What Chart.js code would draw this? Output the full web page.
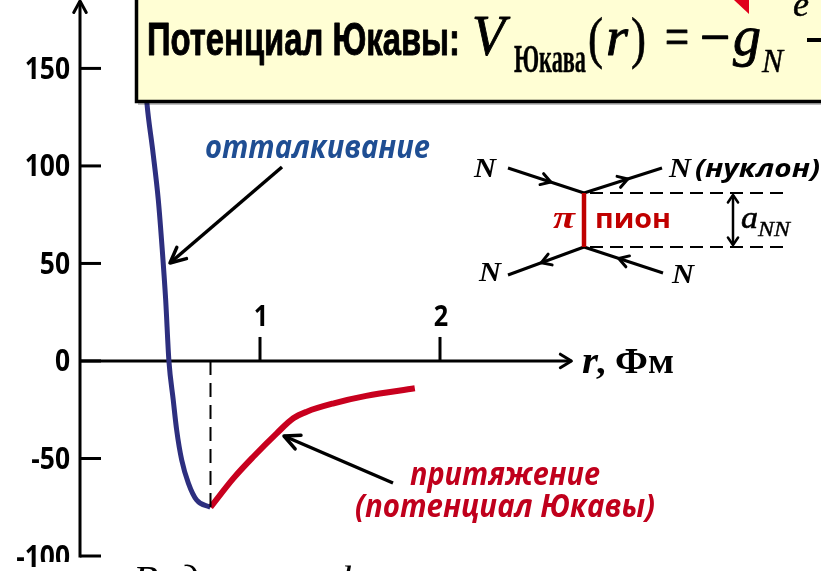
<!DOCTYPE html>
<html>
<head>
<meta charset="utf-8">
<script src="https://cdn.jsdelivr.net/npm/chart.js@4.4.1/dist/chart.umd.min.js"></script>
<style>
  html, body { margin: 0; padding: 0; background: #ffffff; }
  canvas { display: block; }
</style>
</head>
<body>
<canvas id="c" width="821" height="571"></canvas>
<script>
// ---- data (r in Fm, V in arbitrary units) ----
const xTicks = [1, 2];
const yTicks = [150, 100, 50, 0, -50, -100];
const blueR = [0.35, 0.372, 0.404, 0.435, 0.457, 0.476, 0.494, 0.518, 0.537, 0.565, 0.602, 0.648, 0.725];
const blueV = [160, 132, 108, 82.6, 57, 31.3, 0, -20, -35.4, -50.8, -62.6, -71.3, -75];
const redR = [0.725, 0.852, 0.963, 1.093, 1.185, 1.26, 1.41, 1.59, 1.86];
const redV = [-75, -60.2, -49.1, -37.1, -29.4, -26, -21.7, -17.9, -14.0];
const xAxisEnd = 2.73;

const BLUE = '#2d2f7f';
const RED = '#c8001e';
const TXT_BLUE = '#1f4e93';
const TXT_RED = '#c0001c';

function pts(xs, ys) { return xs.map((x, i) => ({ x: x, y: ys[i] })); }

function txt(ctx, s, x, y, font, color, opt) {
  opt = opt || {};
  ctx.save();
  ctx.font = font;
  ctx.fillStyle = color;
  ctx.textBaseline = 'alphabetic';
  ctx.textAlign = 'left';
  const w = ctx.measureText(s).width;
  const tw = opt.width || w * (opt.sx || 1);
  const sx = tw / w;
  let x0 = x;
  if (opt.align === 'right') x0 = x - tw;
  else if (opt.align === 'center') x0 = x - tw / 2;
  ctx.translate(x0, y);
  ctx.scale(sx, 1);
  ctx.fillText(s, 0, 0);
  if (opt.stroke) { ctx.strokeStyle = color; ctx.lineWidth = opt.stroke; ctx.lineJoin = 'round'; ctx.strokeText(s, 0, 0); }
  ctx.restore();
}

function line(ctx, x1, y1, x2, y2, w, color, dash) {
  ctx.save();
  ctx.beginPath();
  ctx.strokeStyle = color || '#000';
  ctx.lineWidth = w;
  ctx.setLineDash(dash || []);
  ctx.moveTo(x1, y1); ctx.lineTo(x2, y2);
  ctx.stroke();
  ctx.restore();
}

function head(ctx, tx, ty, ang, len, spread, w) {
  ctx.save();
  ctx.beginPath();
  ctx.strokeStyle = '#000';
  ctx.lineWidth = w;
  ctx.lineCap = 'round';
  ctx.lineJoin = 'round';
  ctx.moveTo(tx - len * Math.cos(ang - spread), ty - len * Math.sin(ang - spread));
  ctx.lineTo(tx, ty);
  ctx.lineTo(tx - len * Math.cos(ang + spread), ty - len * Math.sin(ang + spread));
  ctx.stroke();
  ctx.restore();
}

function arrow(ctx, x1, y1, x2, y2, w, len, spread) {
  line(ctx, x1, y1, x2, y2, w, '#000');
  head(ctx, x2, y2, Math.atan2(y2 - y1, x2 - x1), len, spread, w);
}

function fline(ctx, x1, y1, x2, y2) {
  line(ctx, x1, y1, x2, y2, 3, '#000');
  const mx = (x1 + x2) / 2, my = (y1 + y2) / 2;
  const ang = Math.atan2(y2 - y1, x2 - x1);
  head(ctx, mx + 5 * Math.cos(ang), my + 5 * Math.sin(ang), ang, 11, 0.55, 3);
}

const LABEL_FONT = 'bold 30px "Open Sans", "DejaVu Sans", sans-serif';

const deco = {
  id: 'deco',
  beforeDatasetsDraw(chart) {
    const ctx = chart.ctx;
    const xs = chart.scales.x, ys = chart.scales.y;
    const x0 = xs.getPixelForValue(0);
    const y0 = ys.getPixelForValue(0);
    const yBot = ys.getPixelForValue(-100);
    const xEnd = xs.getPixelForValue(xAxisEnd);
    // y axis
    line(ctx, x0, yBot + 1.5, x0, 1, 3, '#000');
    head(ctx, x0, 1, -Math.PI / 2, 13, 0.5, 3);
    // x axis
    line(ctx, x0, y0, xEnd, y0, 3, '#000');
    head(ctx, xEnd, y0, 0, 13, 0.55, 3);
    // y ticks + labels
    yTicks.forEach(v => {
      const py = ys.getPixelForValue(v);
      line(ctx, x0, py, x0 + 21, py, 3, '#000');
      txt(ctx, String(v), 70, py + 10.5, LABEL_FONT, '#000', { align: 'right', sx: 0.88 });
    });
    // x ticks + labels
    xTicks.forEach(v => {
      const px = xs.getPixelForValue(v);
      line(ctx, px, y0, px, y0 - 24, 3, '#000');
      txt(ctx, String(v), px + 1, y0 - 35, 'bold 28px "Open Sans", "DejaVu Sans", sans-serif', '#000', { align: 'center', sx: 0.9 });
    });
    // axis title r, Фм
    txt(ctx, 'r', 582, 373, 'italic bold 38px "Liberation Serif", serif', '#000', { width: 16 });
    txt(ctx, ', Фм', 596, 373, 'bold 36px "Liberation Serif", serif', '#000', { width: 78 });
  },
  afterDatasetsDraw(chart) {
    const ctx = chart.ctx;
    // ---- title box ----
    ctx.save();
    ctx.fillStyle = 'rgba(0,0,0,0.25)';
    ctx.fillRect(138, 101, 700, 4);
    ctx.fillStyle = '#fffed4';
    ctx.fillRect(135, -10, 700, 112);
    ctx.strokeStyle = '#000';
    ctx.lineWidth = 3.5;
    ctx.strokeRect(136.5, -10, 700, 111.5);
    ctx.restore();
    txt(ctx, 'Потенциал Юкавы:', 147, 55, 'bold 46px "Liberation Sans Narrow", "Liberation Sans", sans-serif', '#000', { width: 313, stroke: 0.9 });
    const SERIF = '"Liberation Serif", "DejaVu Serif", serif';
    txt(ctx, 'V', 472, 55, 'italic 56px ' + SERIF, '#000', { width: 33, stroke: 0.9 });
    txt(ctx, 'Юкава', 514, 72, 'bold 40px ' + SERIF, '#000', { width: 72, stroke: 0.4 });
    txt(ctx, '(', 588, 57, '58px ' + SERIF, '#000', { width: 15, stroke: 0.7 });
    txt(ctx, 'r', 606, 55, 'italic 54px ' + SERIF, '#000', { width: 22, stroke: 0.9 });
    txt(ctx, ')', 631, 57, '58px ' + SERIF, '#000', { width: 15, stroke: 0.7 });
    txt(ctx, '=', 665, 55, '54px ' + SERIF, '#000', { width: 24, stroke: 1.2 });
    txt(ctx, '−', 700, 55, '54px ' + SERIF, '#000', { width: 30, stroke: 1.4 });
    txt(ctx, 'g', 733, 55, 'italic 56px ' + SERIF, '#000', { width: 28, stroke: 0.9 });
    txt(ctx, 'N', 762, 72, 'italic 34px ' + SERIF, '#000', { width: 21, stroke: 0.5 });
    txt(ctx, 'e', 793, 16, 'italic 36px ' + SERIF, '#000', { width: 16, stroke: 0.5 });
    ctx.save();
    ctx.fillStyle = '#000';
    ctx.fillRect(807, 38, 15, 4);
    ctx.fillStyle = '#e0001b';
    ctx.beginPath();
    ctx.moveTo(734, 0); ctx.lineTo(749, 0); ctx.lineTo(749, 14); ctx.closePath();
    ctx.fill();
    ctx.restore();

    // ---- annotations ----
    txt(ctx, 'отталкивание', 205, 158, 'italic bold 32px "Open Sans", "Noto Sans", sans-serif', TXT_BLUE, { width: 225 });
    arrow(ctx, 282, 167, 170, 263, 3.5, 17, 0.45);
    txt(ctx, 'притяжение', 410, 485, 'italic bold 32px "Open Sans", "Noto Sans", sans-serif', TXT_RED, { width: 190 });
    txt(ctx, '(потенциал Юкавы)', 355, 517, 'italic bold 32px "Open Sans", "Noto Sans", sans-serif', TXT_RED, { width: 300 });
    arrow(ctx, 393, 483, 284, 436, 3.5, 17, 0.45);

    // ---- Feynman diagram ----
    const vt = [584, 193], vb = [584, 247];
    fline(ctx, 508, 168, vt[0], vt[1]);
    fline(ctx, vt[0], vt[1], 662, 168);
    fline(ctx, vb[0], vb[1], 508, 275);
    fline(ctx, 663, 273, vb[0], vb[1]);
    line(ctx, 590, 193, 785, 193, 2, '#000', [13, 7]);
    line(ctx, 590, 247, 785, 247, 2, '#000', [13, 7]);
    line(ctx, vt[0], vt[1], vb[0], vb[1], 4.5, '#c00000');
    arrow(ctx, 733, 220, 733, 195, 2.5, 9, 0.6);
    arrow(ctx, 733, 220, 733, 245, 2.5, 9, 0.6);
    const NF = 'italic bold 28px "Liberation Serif", serif';
    txt(ctx, 'N', 474, 177, NF, '#000', { width: 22 });
    txt(ctx, 'N', 669, 177, NF, '#000', { width: 22 });
    txt(ctx, '(нуклон)', 695, 177, 'italic bold 25px "Open Sans", sans-serif', '#000', { width: 125 });
    txt(ctx, 'N', 479, 281, NF, '#000', { width: 22 });
    txt(ctx, 'N', 672, 283, NF, '#000', { width: 22 });
    txt(ctx, 'π', 553, 228, 'italic bold 32px "Liberation Serif", serif', '#c00000', { width: 22 });
    txt(ctx, 'пион', 595, 228, 'bold 27px "Open Sans", sans-serif', '#c00000', { width: 76 });
    txt(ctx, 'a', 741, 228, 'italic 32px ' + SERIF, '#000', { width: 17, stroke: 0.6 });
    txt(ctx, 'NN', 758, 236, 'italic 22px ' + SERIF, '#000', { width: 32, stroke: 0.4 });

    // ---- caption box cut by the bottom edge (covers lower part of the -100 label) ----
    ctx.save();
    ctx.fillStyle = '#ffffff';
    ctx.fillRect(40, 562, 781, 12);
    ctx.restore();
    txt(ctx, 'Вид его графика', 133, 593, 'italic 41px ' + SERIF, '#000');
  }
};

const chart = new Chart(document.getElementById('c'), {
  type: 'scatter',
  data: {
    datasets: [
      {
        label: 'r0',
        data: [{ x: blueR[blueR.length - 1], y: 0 }, { x: blueR[blueR.length - 1], y: blueV[blueV.length - 1] }],
        showLine: true, borderColor: '#000', borderWidth: 2, borderDash: [14, 8], pointRadius: 0, fill: false
      },
      {
        label: 'отталкивание',
        data: pts(blueR, blueV),
        showLine: true, borderColor: BLUE, borderWidth: 5, pointRadius: 0,
        cubicInterpolationMode: 'monotone', fill: false
      },
      {
        label: 'притяжение',
        data: pts(redR, redV),
        showLine: true, borderColor: RED, borderWidth: 6, pointRadius: 0,
        cubicInterpolationMode: 'monotone', fill: false
      }
    ]
  },
  options: {
    responsive: false,
    animation: false,
    devicePixelRatio: 1,
    events: [],
    layout: { padding: { left: 80, right: 21, top: 6, bottom: 15 } },
    scales: {
      x: { type: 'linear', min: 0, max: 4, display: false },
      y: { type: 'linear', min: -100, max: 182, display: false }
    },
    plugins: { legend: { display: false }, tooltip: { enabled: false } }
  },
  plugins: [deco]
});
</script>
</body>
</html>
